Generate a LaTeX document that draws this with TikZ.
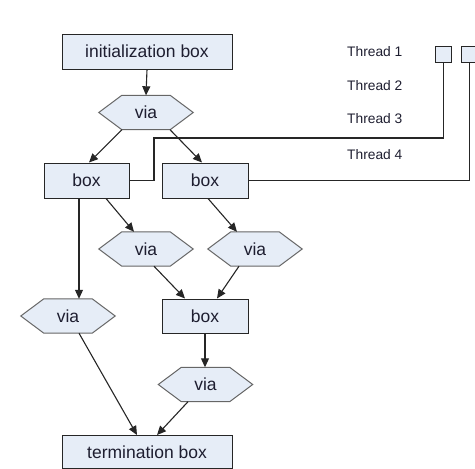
\documentclass[tikz,border=0pt]{standalone}
\usepackage{fontspec}
\setmainfont{Liberation Sans}
\usetikzlibrary{arrows.meta}
\definecolor{boxfill}{HTML}{E6EDF7}
\definecolor{hexline}{HTML}{666666}
\definecolor{txt}{HTML}{1E1E30}
\tikzset{
  boxnode/.style={draw=black!85, line width=1pt, fill=boxfill, minimum width=#1, minimum height=35pt, inner sep=0pt, font=\fontsize{17.5}{20}\selectfont, text=txt},
  boxnode/.default=86pt,
  hexnode/.style={minimum width=94pt, minimum height=34pt, inner sep=0pt, font=\fontsize{17.5}{20}\selectfont, text=txt},
  hexline/.style={draw=hexline, line width=1pt, fill=boxfill},
  smallbox/.style={draw=black!85, line width=1pt, fill=boxfill, minimum width=16pt, minimum height=16pt, inner sep=0pt},
  thr/.style={anchor=west, inner sep=0pt, font=\fontsize{13.8}{16}\selectfont, text=txt},
  conn/.style={draw=black!85, line width=1.1pt},
  arr/.style={conn, -{Triangle[length=9pt,width=8pt]}}
}
\begin{document}
\begin{tikzpicture}[x=1pt,y=1pt]
\useasboundingbox (0,0) rectangle (475,-469);
% hexagon placeholders
\node[hexnode] (v1) at (146,-112.5) {};
\node[hexnode] (v2) at (146,-249) {};
\node[hexnode] (v3) at (255,-249) {};
\node[hexnode] (v4) at (68,-316) {};
\node[hexnode] (v5) at (205.5,-384.5) {};
\foreach \h in {v1,v2,v3,v4,v5}{
  \path[hexline] (\h.west) -- ([xshift=23pt]\h.north west) -- ([xshift=-23pt]\h.north east) -- (\h.east) -- ([xshift=-23pt]\h.south east) -- ([xshift=23pt]\h.south west) -- cycle;
  \node[hexnode] at (\h) {via};
}
\node[boxnode=170pt] (init) at (147,-51.5) {initialization box};
\node[boxnode=85pt] (bL) at (86.5,-180.5) {box};
\node[boxnode=86pt] (bR) at (205,-180.5) {box};
\node[boxnode=86pt, minimum height=34pt] (bM) at (205,-316) {box};
\node[boxnode=170pt, minimum height=33pt] (term) at (147,-452) {termination box};
\node[smallbox] (t1) at (443.5,-54) {};
\node[smallbox] (t2) at (469.5,-54) {};
\node[thr] (l1) at (347,-52) {Thread 1};
\node[thr] (l2) at (347,-86) {Thread 2};
\node[thr] (l3) at (347,-119) {Thread 3};
\node[thr] (l4) at (347,-155) {Thread 4};
\coordinate (c1) at (154,-138);
% connectors
\draw[arr] (init.south) -- (v1.north);
\draw[arr] ([xshift=-24pt]v1.south) -- ([xshift=2.5pt]bL.north);
\draw[arr] ([xshift=24pt]v1.south) -- ([xshift=-3pt]bR.north);
\draw[conn] (bL.east) -| (c1) -| (t1.south);
\draw[conn] (bR.east) -| (t2.south);
\draw[arr] ([xshift=-7.5pt]bL.south) -- ([xshift=-7.5pt]bL.south |- v4.north);
\draw[arr] ([xshift=19.5pt]bL.south) -- ([xshift=-12pt]v2.north);
\draw[arr] ([xshift=3pt]bR.south) -- ([xshift=-18pt]v3.north);
\draw[arr] ([xshift=8pt]v2.south) -- ([xshift=-20pt]bM.north);
\draw[arr] ([xshift=-16pt]v3.south) -- ([xshift=12pt]bM.north);
\draw[arr] (bM.south) -- (bM.south |- v5.north);
\draw[arr] ([xshift=11pt]v4.south) -- ([xshift=-10pt]term.north);
\draw[arr] ([xshift=-17.5pt]v5.south) -- ([xshift=10pt]term.north);
\end{tikzpicture}
\end{document}
